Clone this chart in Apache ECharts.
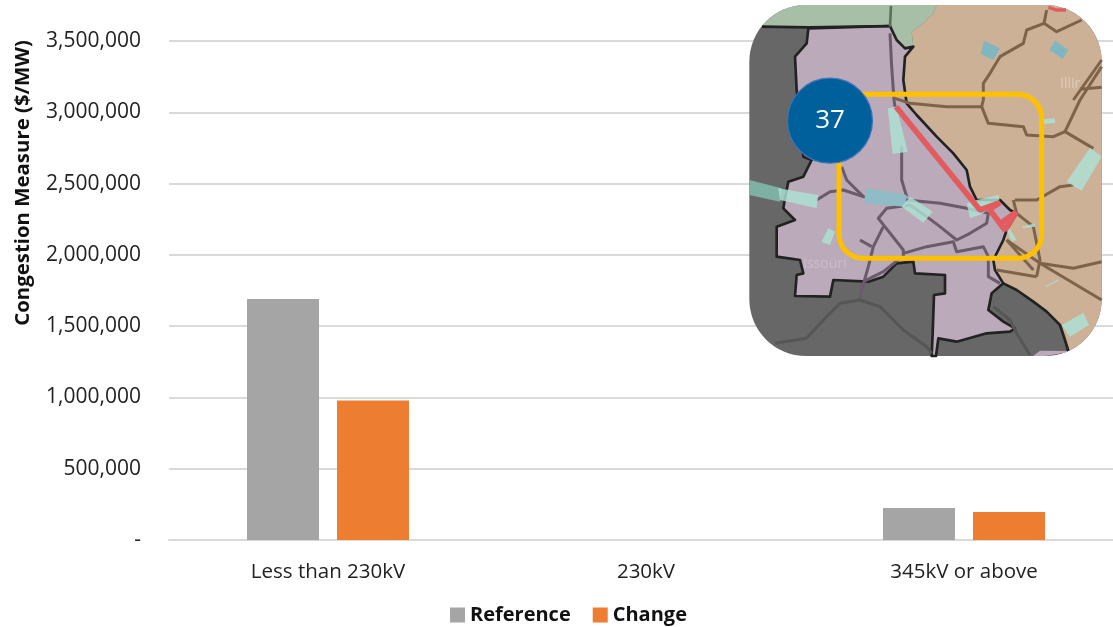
<!DOCTYPE html>
<html><head><meta charset="utf-8">
<style>html,body{margin:0;padding:0;background:#fff}#c{width:1113px;height:627px}</style>
<script src="https://cdn.jsdelivr.net/npm/echarts@6/dist/echarts.min.js"></script>
</head><body><div id="c"></div>
<script>
const categories = ['Less than 230kV', '230kV', '345kV or above'];
const referenceValues = [1690000, 0, 224000];
const changeValues = [978000, 0, 196000];
const seriesNames = ['Reference', 'Change'];
const axisTitle = 'Congestion Measure ($/MW)';
const badgeLabel = '37';

// Decorative inset map, in a 3x coordinate space (see the group scale below)
const C = {gray:'#676767', purple:'#bbaab9', tan:'#cdb197', green:'#a7bfa6', border:'#222222',
  lineTan:'#7d6448', linePurple:'#6b5a6c', lineGray:'#565656', red:'#e25c5f',
  teal:'rgba(172,226,212,0.82)', tealDark:'#7fb0a4', blue:'#7fb6bf', blue2:'#8fbcc6'};
function arc(cx, cy, a0, a1) {
  const out = [];
  for (let i = 0; i <= 16; i++) {
    const a = (a0 + (a1 - a0) * i / 16) * Math.PI / 180;
    out.push([cx + 170 * Math.cos(a), cy + 170 * Math.sin(a)]);
  }
  return out;
}
const tanBorder = [[975,1020],[960,975],[920,935],[880,905],[830,870],[790,850],[765,810],[760,780],[790,720],[800,690],[830,640],[810,630],[780,600],[710,600],[690,560],[680,510],[640,460],[590,410],[530,345],[500,310],[490,240],[495,170],[520,140],[515,95],[550,70],[580,40]];
const tanRegion = [[590,15]].concat(arc(915,185,270,360), arc(915,898,0,65.7), tanBorder);
const greenRegion = arc(198,185,218,270).concat([[590,15],[580,40],[550,70],[515,95],[520,140],[495,145],[470,120],[450,78]]);
const purpleRegion = [[205,85],[450,78],[470,120],[495,145],[520,140],[495,170],[490,240],[500,310],[530,345],[590,410],[640,460],[680,510],[690,560],[710,600],[780,600],[810,630],[830,640],[800,690],[790,720],[760,780],[765,810],[790,850],[755,880],[745,930],[790,965],[825,985],[810,995],[740,1000],[650,1025],[595,1015],[588,1068],[575,1068],[578,1000],[582,885],[615,880],[615,825],[525,820],[520,785],[470,790],[430,830],[385,845],[280,840],[270,890],[165,888],[170,825],[190,820],[180,780],[110,770],[110,680],[165,660],[130,625],[135,595],[145,545],[190,530],[215,480],[190,470],[170,270],[165,170],[200,130]];
const purpleStrip = [[880,1068],[915,1068],[975,1058],[985,1053],[900,1052]];
const regionShapes = [
 {fill:C.tan, p:tanRegion},
 {fill:C.green, p:greenRegion},
 {fill:C.purple, p:purpleRegion, edge:true},
 {fill:C.purple, p:purpleStrip}
];
const borderLines = [
 {c:C.border, p:[[790,850],[830,870],[880,905],[920,935],[960,975],[975,1020],[985,1053]]},
 {c:C.border, p:[[66,80],[205,82],[450,78]]},
 {c:'#5f6f5f', p:[[453,18],[450,80]]}
];
const powerLines = [
 {c:C.linePurple, p:[[450,100],[455,200],[462,300],[465,320]]},
 {c:C.linePurple, p:[[485,440],[485,540],[500,590]]},
 {c:C.linePurple, p:[[230,600],[270,575],[310,570],[370,590],[500,600],[600,610],[680,625],[745,640],[740,670],[690,700],[650,720],[600,680],[560,650],[510,615],[440,625],[415,655],[490,750],[490,770]]},
 {c:C.linePurple, p:[[305,500],[320,540],[370,590]]},
 {c:C.linePurple, p:[[430,680],[400,740],[385,800],[365,870],[360,900]]},
 {c:C.linePurple, p:[[360,720],[395,740]]},
 {c:C.linePurple, p:[[490,760],[560,740],[640,725],[650,755],[730,740],[745,770],[745,830],[780,850]]},
 {c:C.linePurple, p:[[370,845],[430,815],[480,775]]},
 {c:C.lineGray, p:[[105,1030],[200,1015],[250,960],[300,910],[360,900],[420,920],[490,990],[560,1040],[575,1060]]},
 {c:C.lineGray, p:[[760,920],[810,960],[830,1000],[870,1065]]},
 {c:C.lineTan, p:[[920,30],[912,70],[950,95],[1025,60]]},
 {c:C.lineTan, p:[[912,70],[860,90],[850,130],[780,170],[750,220],[730,250],[730,300],[725,320],[620,320],[510,310],[465,295]]},
 {c:C.lineTan, p:[[725,320],[745,370],[850,380],[860,405],[940,410],[975,395],[1060,445]]},
 {c:C.lineTan, p:[[975,395],[1020,300],[1085,200]]},
 {c:C.lineTan, p:[[1000,300],[1085,180]]},
 {c:C.lineTan, p:[[1020,268],[1085,262]]},
 {c:C.lineTan, p:[[825,600],[890,600],[960,560],[1000,555]]},
 {c:C.lineTan, p:[[820,600],[830,640],[880,680],[900,780],[890,830]]},
 {c:C.lineTan, p:[[800,720],[900,790],[1085,900]]},
 {c:C.lineTan, p:[[800,720],[880,810]]},
 {c:C.lineTan, p:[[900,790],[1000,805],[1085,785]]},
 {c:C.lineTan, p:[[770,810],[890,830]]}
];
const patches = [
 {c:C.tealDark, p:[[28,540],[125,565],[120,605],[28,585]]},
 {c:C.teal, p:[[115,565],[235,585],[230,625],[120,600]]},
 {c:C.teal, p:[[443,325],[470,320],[503,455],[458,462]]},
 {c:C.teal, p:[[265,685],[285,695],[270,735],[245,725]]},
 {c:C.blue2, p:[[378,565],[500,585],[495,620],[372,610]]},
 {c:C.teal, p:[[510,590],[578,635],[550,668],[485,620]]},
 {c:C.teal, p:[[680,610],[710,600],[775,585],[778,600],[730,640],[690,655]]},
 {c:C.teal, p:[[805,680],[830,720],[815,725],[800,690]]},
 {c:C.teal, p:[[845,680],[885,670],[885,680],[848,685]]},
 {c:C.teal, p:[[1050,443],[1085,470],[1025,572],[980,545]]},
 {c:C.teal, p:[[910,358],[945,355],[945,368],[912,372]]},
 {c:C.teal, p:[[915,860],[955,838],[955,842],[918,862]]},
 {c:C.teal, p:[[965,975],[1030,938],[1047,975],[990,1010]]},
 {c:C.blue, p:[[732,122],[780,145],[760,180],[722,162]]},
 {c:C.blue, p:[[945,122],[985,150],[968,177],[928,150]]}
];
const redLine = [[468,320],[720,630],[780,608],[748,628],[795,690],[828,637],[785,668]];
const redTop = [[925,22],[950,30],[978,30]];

const Z = 50;
const mapChildren = [
 {type:'rect', z:Z, shape:{x:28,y:15,width:1057,height:1053,r:170}, style:{fill:C.gray}}
];
regionShapes.forEach(r => mapChildren.push({type:'polygon', z:Z, shape:{points:r.p}, style:{fill:r.fill, stroke:r.edge?C.border:null, lineWidth:8, lineJoin:'round'}}));
borderLines.forEach(l => mapChildren.push({type:'polyline', z:Z, shape:{points:l.p}, style:{fill:null, stroke:l.c, lineWidth:8, lineJoin:'round'}}));
powerLines.forEach(l => mapChildren.push({type:'polyline', z:Z, shape:{points:l.p}, style:{fill:null, stroke:l.c, lineWidth:9, lineJoin:'round'}}));
patches.forEach(t => mapChildren.push({type:'polygon', z:Z, shape:{points:t.p}, style:{fill:t.c}}));
mapChildren.push({type:'polyline', z:Z, shape:{points:redLine}, style:{fill:null, stroke:C.red, lineWidth:17, lineJoin:'bevel'}});
mapChildren.push({type:'polyline', z:Z, shape:{points:redTop}, style:{fill:null, stroke:C.red, lineWidth:10}});
mapChildren.push({type:'text', z:Z, x:960, y:232, style:{text:'Illir', fill:'rgba(240,225,210,0.55)', font:'42px "Open Sans"'}});
mapChildren.push({type:'text', z:Z, x:190, y:772, style:{text:'issouri', fill:'rgba(225,210,225,0.45)', font:'42px "Open Sans"'}});
mapChildren.push({type:'rect', z:Z, shape:{x:297,y:283,width:608,height:492,r:72}, style:{fill:null, stroke:'#ffc000', lineWidth:15}});

const FONT = '"Open Sans", sans-serif';
const chart = echarts.init(document.getElementById('c'), null, {renderer:'canvas'});
chart.setOption({
  animation:false,
  backgroundColor:'#ffffff',
  textStyle:{fontFamily:FONT},
  grid:{left:169, top:41, width:954, height:499, containLabel:false, outerBoundsMode:'none'},
  legend:{
    data:seriesNames, left:445, top:600, itemWidth:15, itemHeight:15, itemGap:22,
    icon:'rect', textStyle:{fontFamily:FONT, fontSize:20, fontWeight:'bold', color:'#111'}
  },
  xAxis:{
    type:'category', data:categories,
    axisTick:{show:false},
    axisLine:{lineStyle:{color:'#d9d9d9', width:2}},
    axisLabel:{fontFamily:FONT, fontSize:20.5, color:'#222', margin:22}
  },
  yAxis:{
    type:'value', min:0, max:3500000, interval:500000,
    name:axisTitle, nameLocation:'middle', nameGap:136, nameRotate:90,
    nameTextStyle:{fontFamily:FONT, fontSize:20.4, fontWeight:'bold', color:'#111', padding:[0,0,0,215]},
    axisLine:{show:false}, axisTick:{show:false},
    splitLine:{lineStyle:{color:'#d9d9d9', width:2}},
    axisLabel:{fontFamily:FONT, fontSize:21, color:'#222', margin:28, padding:[4,0,0,0],
      formatter:v => v === 0 ? '-' : v.toLocaleString('en-US')}
  },
  series:[
    {name:seriesNames[0], type:'bar', data:referenceValues, barWidth:72, barGap:'25%', itemStyle:{color:'#a5a5a5'}},
    {name:seriesNames[1], type:'bar', data:changeValues, barWidth:72, itemStyle:{color:'#ed7d31'}}
  ],
  graphic:{elements:[
    {type:'group', x:740, y:0, scaleX:1/3, scaleY:1/3, z:Z, children:mapChildren},
    {type:'circle', z:60, shape:{cx:830, cy:120.7, r:42.5}, style:{fill:'#00609c', stroke:'#3f73b8', lineWidth:1.2}},
    {type:'text', z:61, x:830, y:121, style:{text:badgeLabel, fill:'#ffffff', font:'26px "Open Sans", sans-serif', align:'center', verticalAlign:'middle'}}
  ]}
});
</script></body></html>
